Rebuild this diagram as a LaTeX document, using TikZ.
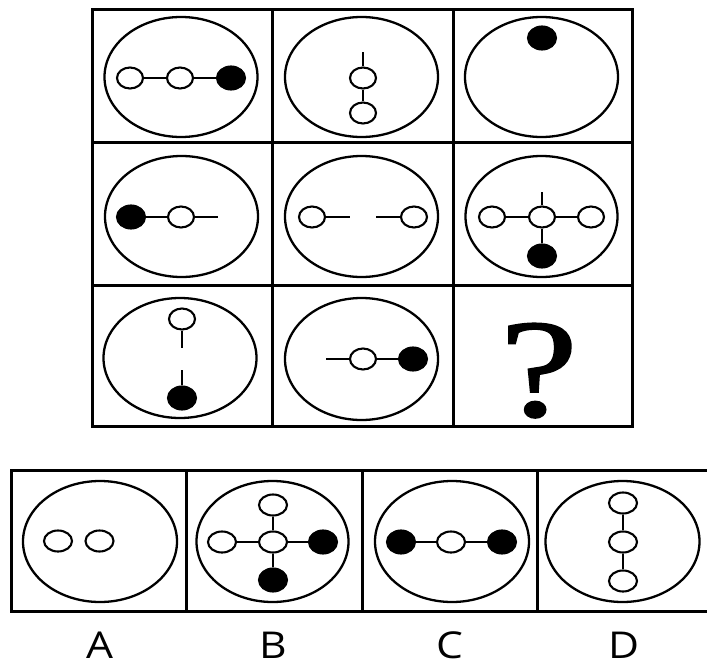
\documentclass[tikz,border=0pt]{standalone}
\usepackage{fontspec}
\usepackage{tikz}
\usetikzlibrary{shapes.geometric}
\newfontfamily\labelfont{Open Sans}
\newfontfamily\askfont[FakeBold=1.2]{Liberation Serif}

\begin{document}
\begin{tikzpicture}[x=1pt, y=-1pt,
        grid/.style = {line width=3pt},
        frame/.style = {line width=2.3pt},
        link/.style = {line width=2.3pt},
        opencirc/.style = {ellipse, draw, fill=white, line width=2.1pt,
            minimum width=26pt, minimum height=21pt, inner sep=0pt},
        fullcirc/.style = {opencirc, fill=black, minimum width=28pt, minimum height=23pt},
        bigopen/.style = {opencirc, minimum width=28pt},
        choice/.style = {font=\labelfont\fontsize{37}{38}\selectfont, anchor=base,
            xscale=1.15, inner sep=0pt, text depth=0pt}]
        \useasboundingbox (0, 0) rectangle (707, 664);

        % puzzle grid
        \draw[grid] (92, 9) rectangle (632, 426);
        \draw[grid] (92, 142) -- (632, 142);
        \draw[grid] (92, 285) -- (632, 285);
        \draw[grid] (272, 9) -- (272, 426);
        \draw[grid] (453, 9) -- (453, 426);

        % answer row
        \draw[grid] (11, 470) rectangle (712, 611);
        \draw[grid] (186, 470) -- (186, 611);
        \draw[grid] (362, 470) -- (362, 611);
        \draw[grid] (537, 470) -- (537, 611);

        % outer ellipses
        \draw[frame] (181, 77) ellipse (76.5 and 60);
        \draw[frame] (361.5, 77) ellipse (76.5 and 60);
        \draw[frame] (541.5, 77) ellipse (76.5 and 60);
        \draw[frame] (181.5, 216.5) ellipse (76.5 and 60.5);
        \draw[frame] (361.5, 216.5) ellipse (76.5 and 60.5);
        \draw[frame] (541.5, 216.5) ellipse (76 and 60.5);
        \draw[frame] (180, 358) ellipse (76.5 and 60);
        \draw[frame] (361.5, 359) ellipse (76.5 and 61);
        \draw[frame] (100, 541.5) ellipse (77 and 60.5);
        \draw[frame] (272.5, 541.5) ellipse (76 and 60.5);
        \draw[frame] (452, 541.5) ellipse (77 and 60.5);
        \draw[frame] (622.5, 541.5) ellipse (77 and 60.5);

        % row 1
        \node[opencirc] (aa1) at (130, 78) {};
        \node[opencirc] (aa2) at (180, 78) {};
        \node[fullcirc] (aa3) at (231, 78) {};
        \draw[link] (aa1) -- (aa2);
        \draw[link] (aa2) -- (aa3);

        \coordinate (ab0) at (363, 52);
        \node[opencirc] (ab1) at (363, 78) {};
        \node[opencirc] (ab2) at (363, 113) {};
        \draw[link] (ab0) -- (ab1);
        \draw[link] (ab1) -- (ab2);

        \node[fullcirc] (ac1) at (542, 38) {};

        % row 2
        \node[fullcirc] (ba1) at (131, 217) {};
        \node[opencirc] (ba2) at (181, 217) {};
        \coordinate (ba3) at (218, 217);
        \draw[link] (ba1) -- (ba2);
        \draw[link] (ba2) -- (ba3);

        \node[opencirc] (bb1) at (312, 217) {};
        \coordinate (bb2) at (350, 217);
        \coordinate (bb3) at (376, 217);
        \node[opencirc] (bb4) at (414, 217) {};
        \draw[link] (bb1) -- (bb2);
        \draw[link] (bb3) -- (bb4);

        \node[opencirc] (bc1) at (492, 217) {};
        \node[opencirc] (bc2) at (542, 217) {};
        \node[opencirc] (bc3) at (591, 217) {};
        \coordinate (bc4) at (542, 192);
        \node[fullcirc] (bc5) at (542, 256) {};
        \draw[link] (bc1) -- (bc2);
        \draw[link] (bc2) -- (bc3);
        \draw[link] (bc4) -- (bc2);
        \draw[link] (bc2) -- (bc5);

        % row 3
        \node[opencirc] (ca1) at (182, 319) {};
        \coordinate (ca2) at (182, 348);
        \coordinate (ca3) at (182, 370);
        \node[fullcirc] (ca4) at (182, 398) {};
        \draw[link] (ca1) -- (ca2);
        \draw[link] (ca3) -- (ca4);

        \coordinate (cb0) at (326, 359);
        \node[opencirc] (cb1) at (363, 359) {};
        \node[fullcirc] (cb2) at (413, 359) {};
        \draw[link] (cb0) -- (cb1);
        \draw[link] (cb1) -- (cb2);

        \node[anchor=base, xscale=1.25, inner sep=0pt, text depth=0pt,
            font=\askfont\fontsize{140}{140}\selectfont] (ask) at (539, 416) {?};

        % answers
        \node[bigopen] (da1) at (58, 541) {};
        \node[bigopen] (da2) at (99.5, 541) {};

        \node[bigopen] (db1) at (273, 542) {};
        \node[bigopen] (db2) at (273, 505) {};
        \node[bigopen] (db3) at (222, 542) {};
        \node[fullcirc] (db4) at (323, 542) {};
        \node[fullcirc] (db5) at (273, 580) {};
        \draw[link] (db2) -- (db1);
        \draw[link] (db3) -- (db1);
        \draw[link] (db1) -- (db4);
        \draw[link] (db1) -- (db5);

        \node[fullcirc] (dc1) at (401, 542) {};
        \node[bigopen] (dc2) at (451, 542) {};
        \node[fullcirc] (dc3) at (502, 542) {};
        \draw[link] (dc1) -- (dc2);
        \draw[link] (dc2) -- (dc3);

        \node[bigopen] (dd1) at (623, 503) {};
        \node[bigopen] (dd2) at (623, 542) {};
        \node[bigopen] (dd3) at (623, 581) {};
        \draw[link] (dd1) -- (dd2);
        \draw[link] (dd2) -- (dd3);

        \node[choice] (la) at (100, 658) {A};
        \node[choice] (lb) at (273, 658) {B};
        \node[choice] (lc) at (450, 658) {C};
        \node[choice] (ld) at (624, 658) {D};
\end{tikzpicture}
\end{document}
